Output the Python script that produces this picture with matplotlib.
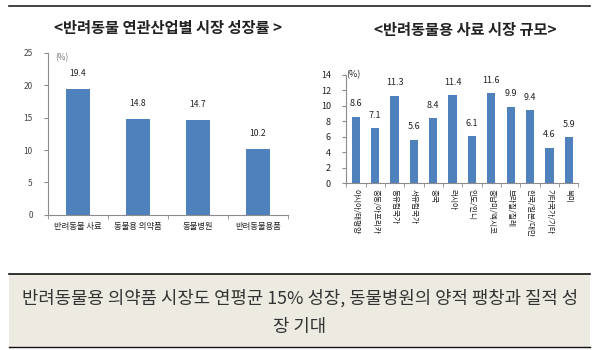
import matplotlib
matplotlib.use('Agg')
import matplotlib.pyplot as plt
from matplotlib.patches import Rectangle
import numpy as np

plt.rcParams['font.family'] = ['Noto Sans CJK KR', 'DejaVu Sans']

# 왼쪽 차트 데이터
left_cats = ['반려동물 사료', '동물용 의약품', '동물병원', '반려동물용품']
left_vals = [19.4, 14.8, 14.7, 10.2]
left_title = '<반려동물 연관산업별 시장 성장률 >'

# 오른쪽 차트 데이터
right_cats = ['아시아/태평양', '중동/아프리카', '동유럽국가', '서유럽국가', '중국',
              '러시아', '인도/인니', '중남미/멕시코', '브라질/칠레', '한국/일본/대만',
              '기타국가/기타', '북미']
right_vals = [8.6, 7.1, 11.3, 5.6, 8.4, 11.4, 6.1, 11.6, 9.9, 9.4, 4.6, 5.9]
right_title = '<반려동물용 사료 시장 규모>'

bottom_text = ['반려동물용 의약품 시장도 연평균 15% 성장, 동물병원의 양적 팽창과 질적 성',
               '장 기대']

bar_color = '#4F81BD'
axis_color = '#8C8C8C'
text_color = '#333333'

fig = plt.figure(figsize=(6, 3.5), dpi=100)

# 상단 선
fig.add_artist(plt.Line2D([0.015, 0.983], [0.983, 0.983], color='#222222', lw=1.2))


def style_axes(ax, ymax, ystep, n):
    for s in ['top', 'right']:
        ax.spines[s].set_visible(False)
    for s in ['left', 'bottom']:
        ax.spines[s].set_color(axis_color)
        ax.spines[s].set_linewidth(0.8)
    ax.set_xlim(-0.5, n - 0.5)
    ax.set_ylim(0, ymax)
    ax.set_yticks(np.arange(0, ymax + 0.1, ystep))
    ax.tick_params(axis='y', length=3, color=axis_color, labelsize=6, labelcolor='#444444', pad=8)
    ax.set_xticks(np.arange(-0.5, n, 1), minor=True)
    ax.tick_params(axis='x', which='minor', length=3, color=axis_color)
    ax.tick_params(axis='x', which='major', length=0)


# 왼쪽 차트
ax1 = fig.add_axes([0.08, 0.386, 0.4, 0.463])
x1 = np.arange(len(left_cats))
ax1.bar(x1, left_vals, width=0.4, color=bar_color)
style_axes(ax1, 25, 5, len(left_cats))
ax1.set_xticks(x1)
ax1.set_xticklabels(left_cats, fontsize=6, color='#222222')
ax1.tick_params(axis='x', which='major', pad=5)
for xi, v in zip(x1, left_vals):
    ax1.annotate(f'{v}', (xi, v), xytext=(0, 8), textcoords='offset points',
                 ha='center', va='bottom', fontsize=6.2, color='#222222')
ax1.text(0.03, 0.97, '(%)', transform=ax1.transAxes, fontsize=6, color='#777777',
         va='center', ha='left')
fig.text(0.28, 0.92, left_title, ha='center', va='center', fontsize=11,
         fontweight='bold', color='#222222')

# 오른쪽 차트
ax2 = fig.add_axes([0.577, 0.477, 0.387, 0.309])
x2 = np.arange(len(right_cats))
ax2.bar(x2, right_vals, width=0.43, color=bar_color)
style_axes(ax2, 14, 2, len(right_cats))
ax2.set_xticks(x2)
ax2.set_xticklabels(right_cats, fontsize=5.5, color='#222222', rotation=-90,
                    ha='center', va='top')
ax2.tick_params(axis='x', which='major', pad=4)
ax2.tick_params(axis='y', labelcolor='#222222', labelsize=6.5)
for xi, v in zip(x2, right_vals):
    ax2.annotate(f'{v}', (xi, v), xytext=(0, 6), textcoords='offset points',
                 ha='center', va='bottom', fontsize=6.5, color='#222222')
ax2.text(0.0, 1.0, '(%)', transform=ax2.transAxes, fontsize=6.5, color='#222222',
         va='center', ha='left')
fig.text(0.775, 0.913, right_title, ha='center', va='center', fontsize=11,
         fontweight='bold', color='#222222')

# 하단 박스
fig.add_artist(Rectangle((0.015, 0.009), 0.968, 0.208, transform=fig.transFigure,
                         facecolor='#ECEAE1', edgecolor='none'))
fig.add_artist(plt.Line2D([0.015, 0.983], [0.217, 0.217], color='#111111', lw=1.2))
fig.add_artist(plt.Line2D([0.015, 0.983], [0.009, 0.009], color='#111111', lw=1.0))
fig.text(0.5, 0.148, bottom_text[0], ha='center', va='center', fontsize=12.8, color=text_color)
fig.text(0.5, 0.066, bottom_text[1], ha='center', va='center', fontsize=12.8, color=text_color)

fig.savefig('out.png', dpi=100, facecolor='white')
